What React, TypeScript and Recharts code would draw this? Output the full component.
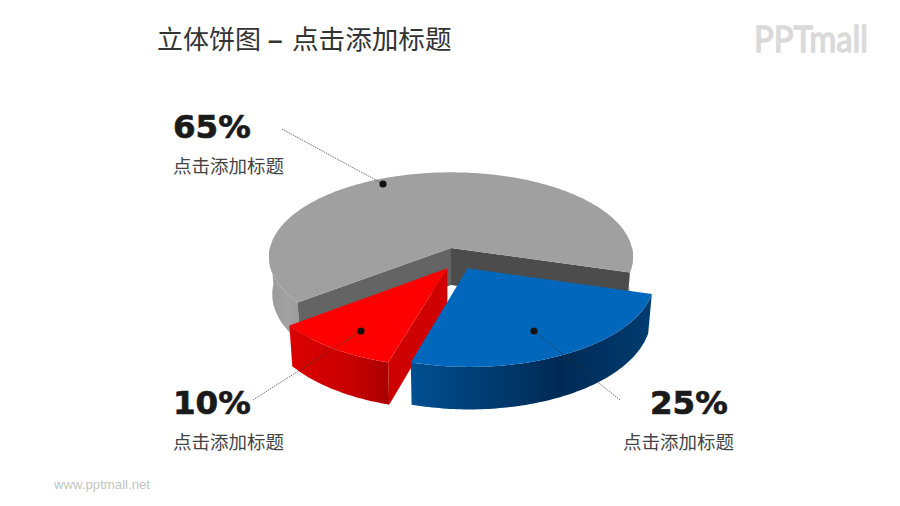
import { Pie, PieChart } from 'recharts';

const categories = ['grey', 'red', 'blue'];
const shares = [65, 10, 25];
const percentLabels = ['65%', '10%', '25%'];
const subtitle = '点击添加标题';

const topColors = ['#a0a0a0', '#ff0000', '#0068bc'];
const wallStops = [
    ['#9a9a9a', '#a2a2a2', '#9a9a9a'],
    ['#dc0000', '#c80000', '#a80000'],
    ['#004f90', '#002a55', '#003c70'],
];
const startFaces = ['#4c4c4c', '#4c4c4c', '#4c4c4c'];
const endFaces = ['#646464', '#cf0000', '#00386a'];

// how far each slice is pulled out, in units of the radius on the ground plane
const pullX = [0, -0.02, 0.09];
const pullY = [0, 0.237, 0.237];

const chartData = categories.map((name, i) => ({ name, value: shares[i] }));

const SQUASH = 0.462;
const TILT = 0.105;
const DEPTH = 37;
const LOW_SHRINK = 0.982;
const RAD = Math.PI / 180;

/**
 * Flattened pie slice with side walls. Recharts hands over the angles,
 * the shape only projects them onto a tilted disc.
 */
function Slice3D(props: any) {
    const { cx, cy, outerRadius, startAngle, endAngle } = props;
    const i = categories.indexOf(props.name ?? props.payload?.name);
    const a0 = Math.min(startAngle, endAngle);
    const a1 = Math.max(startAngle, endAngle);

    const project = (X: number, Y: number, low = false) => {
        const gx = X + pullX[i];
        const gy = Y + pullY[i];
        const w = 1 - TILT * gy;
        return [
            cx + ((low ? LOW_SHRINK : 1) * outerRadius * gx) / w,
            cy + (SQUASH * outerRadius * gy) / w + (low ? DEPTH / w : 0),
        ];
    };
    const rim = (deg: number, low = false) =>
        project(Math.cos(deg * RAD), -Math.sin(deg * RAD), low);
    const toPath = (pts: number[][]) =>
        'M' + pts.map((p) => `${p[0].toFixed(1)},${p[1].toFixed(1)}`).join('L') + 'Z';

    const angles: number[] = [];
    for (let a = a0; a < a1; a += 1) angles.push(a);
    angles.push(a1);

    // parts of the rim that face the viewer
    const runs: number[][] = [];
    let run: number[] = [];
    angles.forEach((a) => {
        if (Math.sin(a * RAD) < 0.02) {
            run.push(a);
        } else if (run.length) {
            runs.push(run);
            run = [];
        }
    });
    if (run.length) runs.push(run);

    const top = [project(0, 0), ...angles.map((a) => rim(a))];
    const cutFace = (deg: number) => [project(0, 0), rim(deg), rim(deg, true), project(0, 0, true)];
    const gradId = `wall-${i}`;

    return (
        <g>
            <defs>
                <linearGradient id={gradId} x1="0" y1="0" x2="1" y2="0">
                    <stop offset="0%" stopColor={wallStops[i][0]} />
                    <stop offset="62%" stopColor={wallStops[i][1]} />
                    <stop offset="100%" stopColor={wallStops[i][2]} />
                </linearGradient>
            </defs>
            {runs.map((r, k) => (
                <path
                    key={k}
                    d={toPath([...r.map((a) => rim(a)), ...[...r].reverse().map((a) => rim(a, true))])}
                    fill={`url(#${gradId})`}
                />
            ))}
            {Math.cos(a0 * RAD) > 0 && <path d={toPath(cutFace(a0))} fill={startFaces[i]} />}
            {Math.cos(a1 * RAD) < 0 && <path d={toPath(cutFace(a1))} fill={endFaces[i]} />}
            <path d={toPath(top)} fill={topColors[i]} />
        </g>
    );
}

const cjk = '"Noto Sans CJK SC", sans-serif';
const callouts = [
    { from: [282, 129], dot: [383, 184], pct: [173, 138], sub: [173, 173] },
    { from: [253, 400], dot: [361, 331], pct: [173, 414], sub: [173, 449] },
    { from: [620, 400], dot: [534, 331], pct: [650, 414], sub: [623, 449] },
];

export default function App() {
    return (
        <div style={{ position: 'absolute', left: 0, top: 0, width: 900, height: 506, background: '#fff' }}>
            <PieChart width={900} height={506} margin={{ top: 0, right: 0, bottom: 0, left: 0 }}>
                <Pie
                    data={chartData}
                    dataKey="value"
                    nameKey="name"
                    cx={451}
                    cy={248}
                    innerRadius={0}
                    outerRadius={181}
                    startAngle={-16.5}
                    endAngle={343.5}
                    stroke="none"
                    shape={Slice3D}
                    isAnimationActive={false}
                />
            </PieChart>
            <svg width={900} height={506} style={{ position: 'absolute', left: 0, top: 0 }}>
                <text x={157} y={49} fontFamily={cjk} fontSize={26} fill="#333">立体饼图</text>
                <text x={268} y={49} fontFamily="Liberation Sans" fontWeight="bold" fontSize={26} fill="#333">–</text>
                <text x={292} y={49} fontFamily={cjk} fontSize={26.6} fill="#333">{subtitle}</text>
                {callouts.map((c, i) => (
                    <g key={i}>
                        <line x1={c.from[0]} y1={c.from[1]} x2={c.dot[0]} y2={c.dot[1]} stroke="#333" strokeWidth={0.7} strokeDasharray="1.5 1" />
                        <circle cx={c.dot[0]} cy={c.dot[1]} r={3.6} fill="#111" />
                        <text x={c.pct[0]} y={c.pct[1]} fontFamily="DejaVu Sans" fontWeight="bold" fontSize={32.5} fill="#1a1a1a" stroke="#1a1a1a" strokeWidth={0.7}>{percentLabels[i]}</text>
                        <text x={c.sub[0]} y={c.sub[1]} fontFamily={cjk} fontSize={18.5} fill="#444">{subtitle}</text>
                    </g>
                ))}
                <text x={754} y={52} fontFamily="Lato" fontSize={36} fill="#dadada" stroke="#dadada" strokeWidth={1.4} strokeLinejoin="round" textLength={114} lengthAdjust="spacingAndGlyphs">PPTmall</text>
                <text x={54} y={489} fontFamily="Liberation Sans" fontSize={13.2} fill="#c4c4c4">www.pptmall.net</text>
            </svg>
        </div>
    );
}
